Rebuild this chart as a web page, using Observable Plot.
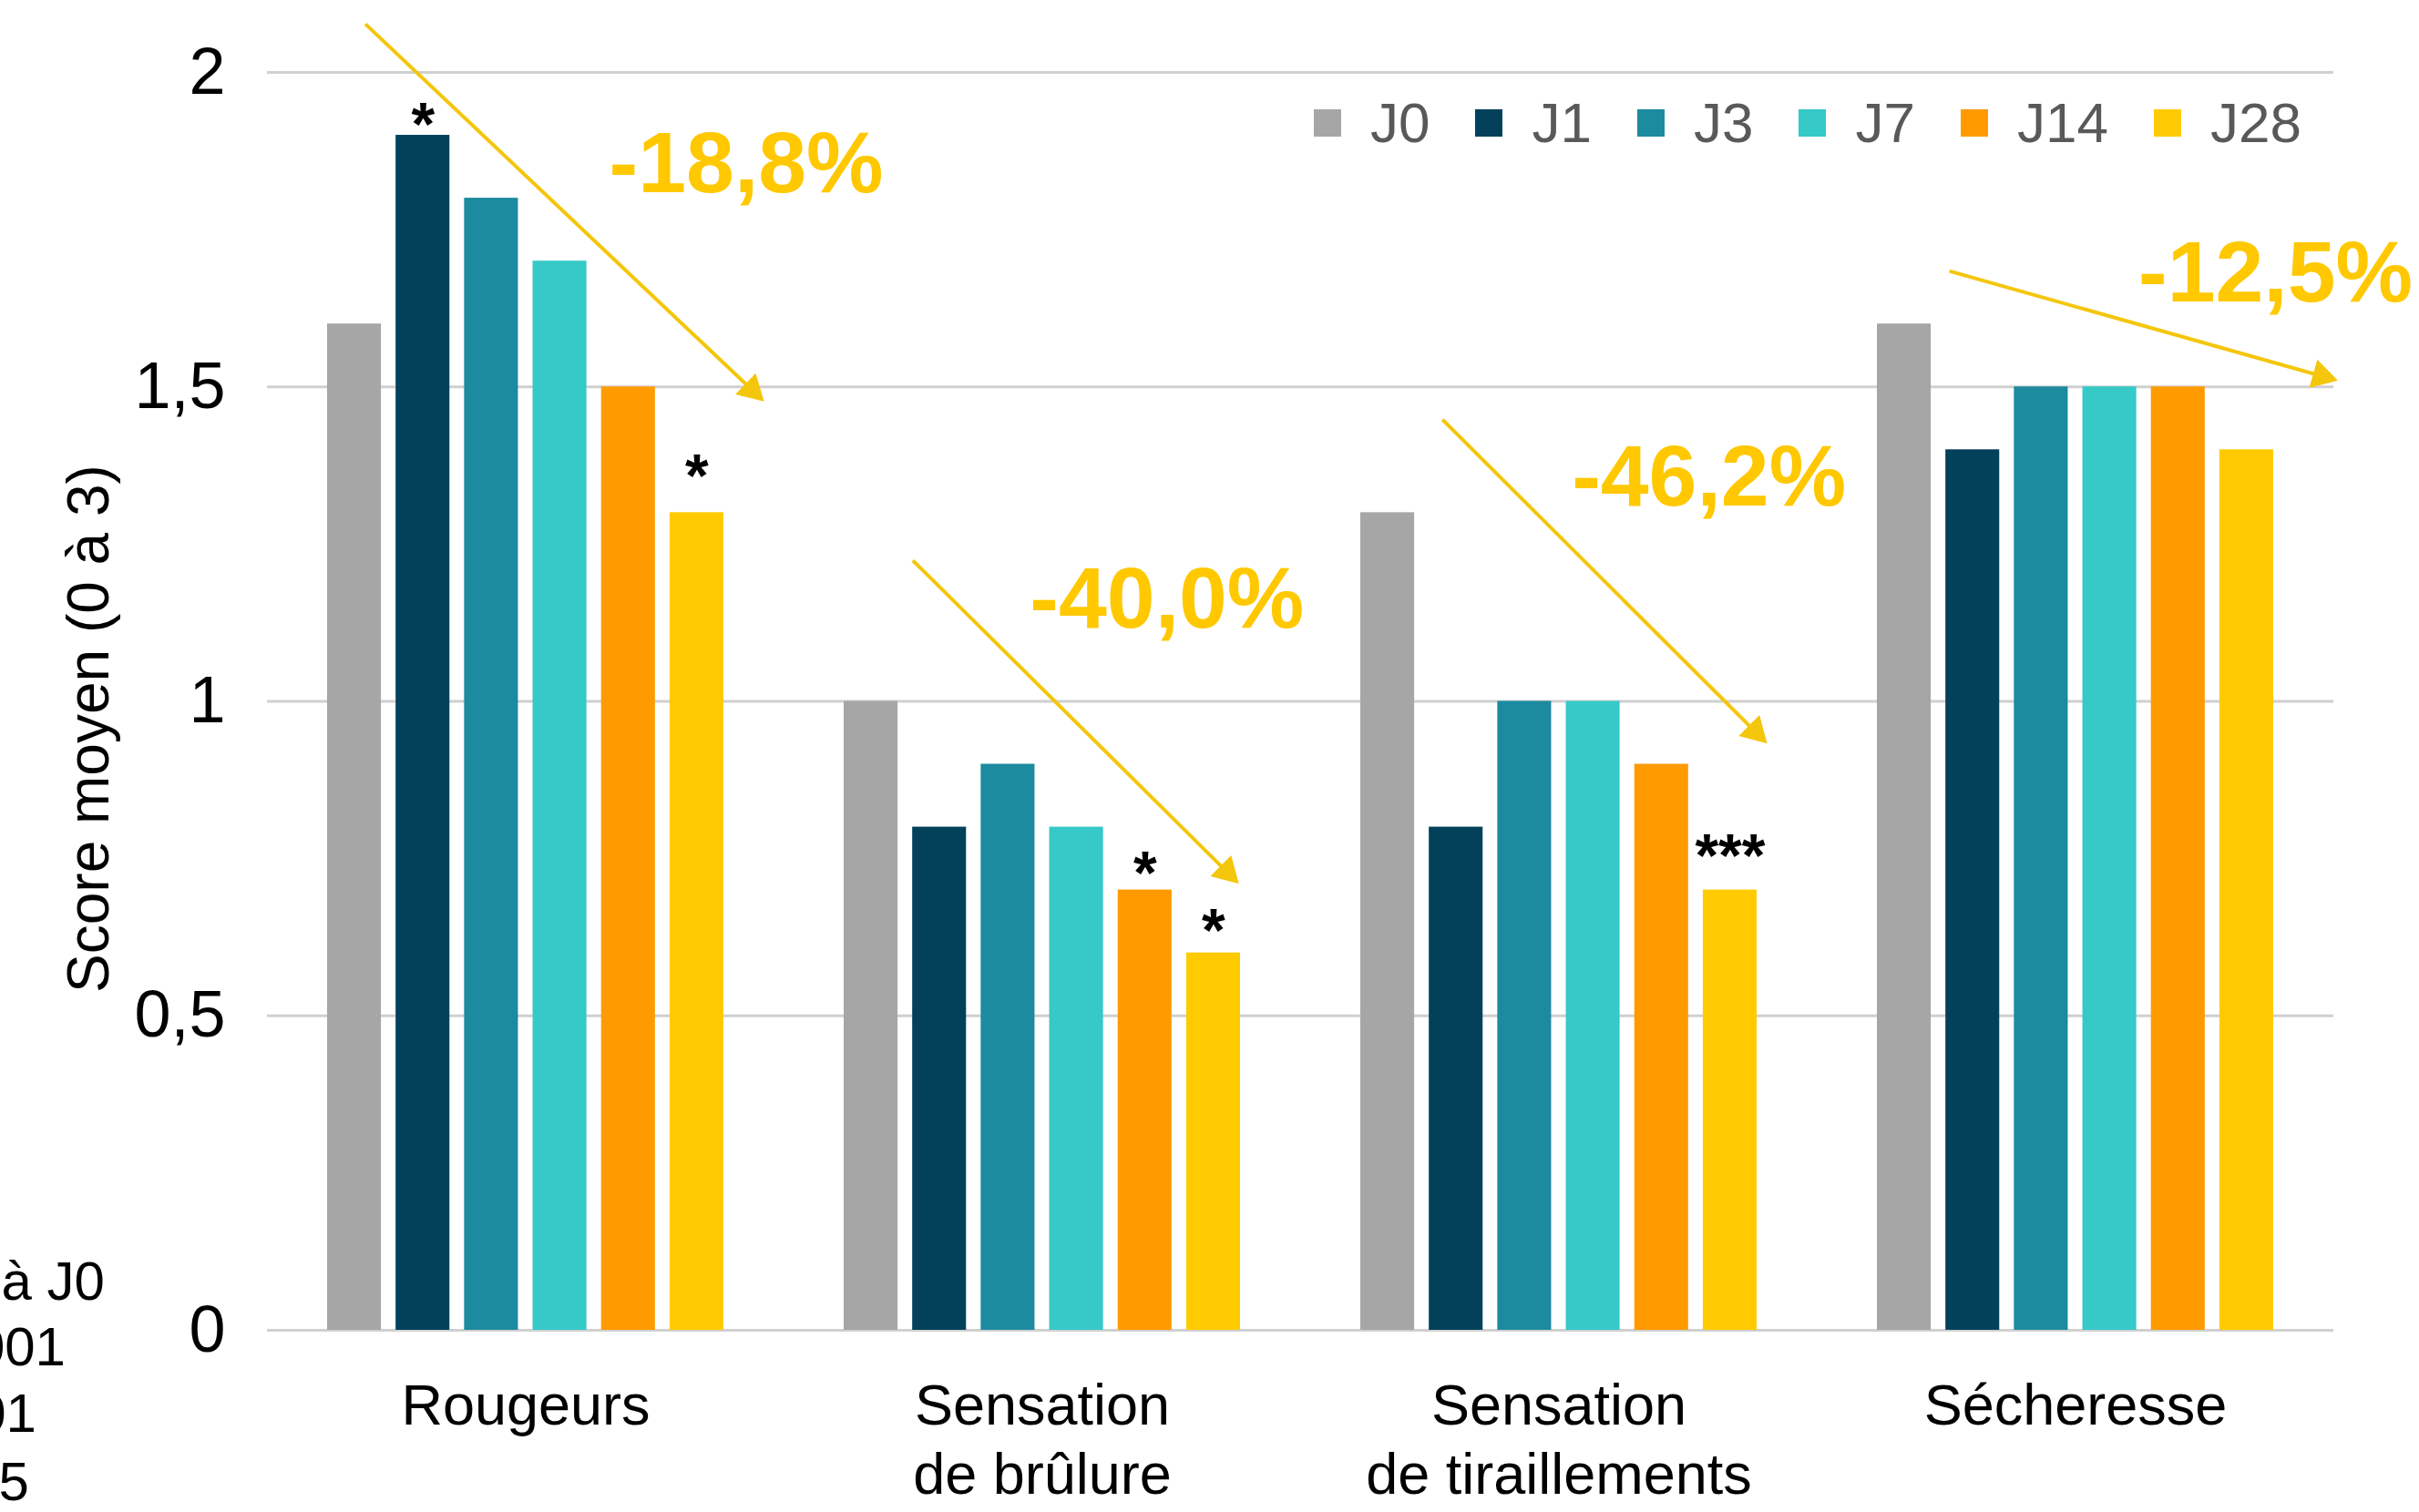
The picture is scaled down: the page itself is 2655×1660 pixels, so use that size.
<!DOCTYPE html>
<html>
<head>
<meta charset="utf-8">
<script src="https://cdn.jsdelivr.net/npm/d3@7"></script>
<script src="https://cdn.jsdelivr.net/npm/@observablehq/plot@0.6"></script>
<style>
  html, body { margin: 0; padding: 0; background: #fff; }
  #wrap { position: relative; width: 2655px; height: 1660px; overflow: hidden; background: #fff;
          font-family: "Liberation Sans", Arial, Helvetica, sans-serif; }
  #wrap svg { position: absolute; left: 0; top: 0; }
  .overlay { position: absolute; white-space: nowrap; line-height: 1; }
</style>
</head>
<body>
<div id="wrap"></div>
<script>
// ---------- data ----------
const categories = ["Rougeurs", "Sensation de brûlure", "Sensation de tiraillements", "Sécheresse"];
const categoryLabels = ["Rougeurs", "Sensation\nde brûlure", "Sensation\nde tiraillements", "Sécheresse"];
const days = ["J0", "J1", "J3", "J7", "J14", "J28"];
const dayColors = ["#A6A6A6", "#03415B", "#1C8A9F", "#35C9C8", "#FF9A00", "#FFCB00"];

const rougeurs      = [1.6, 1.9, 1.8, 1.7, 1.5, 1.3];
const brulure       = [1.0, 0.8, 0.9, 0.8, 0.7, 0.6];
const tiraillements = [1.3, 0.8, 1.0, 1.0, 0.9, 0.7];
const secheresse    = [1.6, 1.4, 1.5, 1.5, 1.5, 1.4];

const sigCategory = ["Rougeurs", "Rougeurs", "Sensation de brûlure", "Sensation de brûlure", "Sensation de tiraillements"];
const sigDay      = ["J1", "J28", "J14", "J28", "J28"];
const sigLabel    = ["*", "*", "*", "*", "***"];
// where each significance mark sits, in score units
const sigY        = [1.929, 1.370, 0.738, 0.647, 0.765];

const changeLabels = ["-18,8%", "-40,0%", "-46,2%", "-12,5%"];
// annotation anchors in data units (x: bar index inside a group, y: score)
const arrowStartX = [0.16, 0.61, 0.80, 0.66];
const arrowStartY = [2.077, 1.224, 1.448, 1.684];
const arrowEndX   = [5.98, 5.37, 5.54, 6.33];
const arrowEndY   = [1.477, 0.710, 0.933, 1.510];
const changeX     = [5.72, 4.32, 4.69, 5.42];
const changeY     = [1.809, 1.118, 1.311, 1.636];

const yTicks = [0, 0.5, 1, 1.5, 2];
const yTickLabels = ["0", "0,5", "1", "1,5", "2"];
const yTitle = "Score moyen (0 à 3)";
const footnoteLines = ["* Différence significative par rapport à J0", "*** p<0,001", "** p<0,01", "* p<0,05"];

// ---------- derived tables ----------
const series = [rougeurs, brulure, tiraillements, secheresse];
const bars = categories.flatMap((c, i) => days.map((d, j) => ({cat: c, day: d, idx: j, value: series[i][j]})));
const stars = sigLabel.map((t, k) => {
  const b = bars.find(r => r.cat === sigCategory[k] && r.day === sigDay[k]);
  return {cat: b.cat, idx: b.idx, y: sigY[k], text: t};
});
const changes = categories.map((c, i) => ({
  cat: c, x1: arrowStartX[i], y1: arrowStartY[i], x2: arrowEndX[i], y2: arrowEndY[i],
  tx: changeX[i], ty: changeY[i], text: changeLabels[i]
}));

const HALF = 0.393;
const YELLOW = "#FFC800";
const ARROW = "#F4C60C";
const HEAD_R = 12;

const base = {
  width: 2655,
  height: 1660,
  marginLeft: 358,
  marginRight: 158,
  marginTop: 79,
  marginBottom: 200,
  style: {fontFamily: '"Liberation Sans", Arial, Helvetica, sans-serif', background: "transparent", color: "#000", overflow: "visible"},
  fx: {domain: categories, paddingInner: 0.232, paddingOuter: 0, label: null},
  x: {domain: [-HALF, 5 + HALF], axis: null},
  y: {domain: [0, 2], label: null},
  color: {domain: days, range: dayColors}
};

const barMark = Plot.rectY(bars, {fx: "cat", x1: d => d.idx - HALF, x2: d => d.idx + HALF, y: "value", fill: "day"});

// first pass: get the scales to orient the arrowheads
const probe = Plot.plot({...base, marks: [barMark]});
const sx = probe.scale("x"), sy = probe.scale("y");
const headSize = HEAD_R * HEAD_R * Math.PI;
const tipDist = 2 * Math.sqrt(headSize / (Math.sqrt(3) * 3));
changes.forEach(a => {
  const px1 = sx.apply(a.x1), py1 = sy.apply(a.y1);
  const px2 = sx.apply(a.x2), py2 = sy.apply(a.y2);
  const L = Math.hypot(px2 - px1, py2 - py1);
  const ux = (px2 - px1) / L, uy = (py2 - py1) / L;
  a.hx = sx.invert(px2 - ux * tipDist);
  a.hy = sy.invert(py2 - uy * tipDist);
  a.rot = Math.atan2(ux, -uy) * 180 / Math.PI;
});

const chart = Plot.plot({
  ...base,
  marks: [
    Plot.ruleY(yTicks, {y: d => d, stroke: "#D0D0D0", strokeWidth: 3, insetLeft: -66, insetRight: -66}),
    barMark,
    Plot.text(stars, {fx: "cat", x: "idx", y: "y", text: "text", fontSize: 66, fontWeight: "bold",
      fill: "#000", lineAnchor: "bottom", textAnchor: "middle", dy: 30}),
    Plot.link(changes, {fx: "cat", x1: "x1", y1: "y1", x2: "hx", y2: "hy", stroke: ARROW, strokeWidth: 4}),
    Plot.dot(changes, {fx: "cat", x: "hx", y: "hy", symbol: "triangle", r: HEAD_R, fill: ARROW, stroke: "none", rotate: "rot"}),
    Plot.text(changes, {fx: "cat", x: "tx", y: "ty", text: "text", fontSize: 95, fontWeight: "bold",
      fill: YELLOW, lineAnchor: "bottom", textAnchor: "middle"}),
    Plot.axisY({ticks: yTicks, tickFormat: d => yTickLabels[yTicks.indexOf(d)], tickSize: 0, tickPadding: 112,
      fontSize: 72, label: null}),
    Plot.axisFx({anchor: "bottom", tickSize: 0, tickPadding: 50, fontSize: 63, lineHeight: 1.2,
      tickFormat: d => categoryLabels[categories.indexOf(d)], label: null})
  ]
});

const wrap = document.getElementById("wrap");
wrap.appendChild(chart);

// y-axis title
const yt = document.createElement("div");
yt.className = "overlay";
yt.textContent = yTitle;
Object.assign(yt.style, {left: "97px", top: "800px", fontSize: "64px", color: "#000",
  transform: "translate(-50%, -50%) rotate(-90deg)"});
wrap.appendChild(yt);

// footnote (cut at the left edge as in the source)
const footRight = [115, 72, 40, 32];
const footBase = [1428, 1500, 1573, 1648];
const footSize = 60;
footnoteLines.forEach((t, i) => {
  const el = document.createElement("div");
  el.className = "overlay";
  el.textContent = t;
  Object.assign(el.style, {right: (2655 - footRight[i]) + "px", top: (footBase[i] - 0.8465 * footSize) + "px",
    fontSize: footSize + "px", lineHeight: footSize + "px", color: "#000"});
  wrap.appendChild(el);
});

// legend
const leg = document.createElement("div");
leg.className = "overlay";
Object.assign(leg.style, {left: "1442px", top: "104px", display: "flex", alignItems: "center",
  fontSize: "62px", lineHeight: "62px", color: "#595959"});
days.forEach((d, i) => {
  const sw = document.createElement("span");
  Object.assign(sw.style, {display: "inline-block", width: "30px", height: "30px", background: dayColors[i], marginRight: "32px"});
  const lb = document.createElement("span");
  lb.textContent = d;
  lb.style.marginRight = "50px";
  leg.appendChild(sw);
  leg.appendChild(lb);
});
wrap.appendChild(leg);
</script>
</body>
</html>
